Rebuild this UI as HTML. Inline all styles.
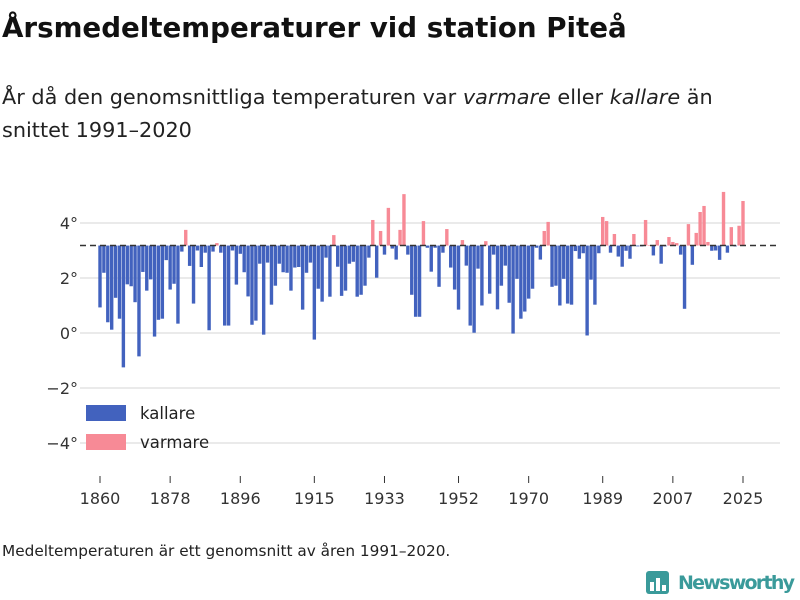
<!DOCTYPE html>
<html><head><meta charset="utf-8"><style>
body{margin:0;background:#fff;font-family:"Liberation Sans","DejaVu Sans",sans-serif;}
#wrap{position:relative;width:800px;height:600px;overflow:hidden;}
</style></head><body>
<div id="wrap">
<svg id="chart" width="800" height="600" font-family="DejaVu Sans, Liberation Sans, sans-serif">
<text x="2" y="37" font-size="27.7" font-weight="bold" fill="#111">Årsmedeltemperaturer vid station Piteå</text>
<text x="2" y="104" font-size="20.8" fill="#222">År då den genomsnittliga temperaturen var <tspan font-style="italic">varmare</tspan> eller <tspan font-style="italic">kallare</tspan> än</text>
<text x="2" y="137" font-size="20.8" fill="#222">snittet 1991–2020</text>
<g id="grid"></g><g id="bars"></g><g id="axes"></g>
<line x1="80" x2="780" y1="245" y2="245" stroke="#333" stroke-width="1.5" stroke-dasharray="6,4" id="baseline"/>
<rect x="86" y="405" width="40" height="16" fill="#4262be"/>
<text x="140" y="419" font-size="16.5" fill="#222">kallare</text>
<rect x="86" y="434" width="40" height="16" fill="#f78a96"/>
<text x="140" y="448" font-size="16.5" fill="#222">varmare</text>
<text x="2" y="556" font-size="15.3" fill="#222">Medeltemperaturen är ett genomsnitt av åren 1991–2020.</text>
<g>
<rect x="646" y="571" width="23" height="23" rx="3" fill="#3a9a9a"/>
<rect x="650" y="582" width="4" height="9" fill="#fff"/><rect x="656" y="578" width="4" height="13" fill="#fff"/><rect x="662" y="585" width="4" height="6" fill="#fff"/>
<text x="678" y="589" font-size="19" font-weight="bold" fill="#3a9a9a" textLength="117">Newsworthy</text>
</g>
</svg>
</div>
<script>
const years=[];for(let y=1860;y<=2025;y++)years.push(y);
const values=[0.93,2.19,0.39,0.12,1.28,0.52,-1.25,1.77,1.70,1.12,-0.85,2.22,1.54,1.95,-0.13,0.48,0.52,2.65,1.58,1.79,0.34,2.96,3.75,2.44,1.07,3.0,2.40,2.92,0.1,2.96,3.27,2.92,0.27,0.27,
3.0,1.76,2.88,2.21,1.33,0.3,0.45,2.52,-0.06,2.56,1.03,1.72,2.52,2.21,2.19,1.54,2.38,2.4,0.85,2.19,2.56,-0.24,1.61,1.14,2.74,1.32,3.56,2.41,1.35,1.54,2.52,2.59,1.32,
1.39,1.72,2.74,4.11,2.01,3.71,2.85,4.55,3.07,2.67,3.75,5.05,2.85,1.39,0.59,0.59,4.07,3.1,2.23,3.1,1.68,2.92,3.78,2.38,1.58,0.85,3.38,2.45,0.27,0.01,2.34,1.0,3.34,1.43,
2.85,0.86,1.72,2.45,1.1,-0.02,1.97,0.52,0.78,1.25,1.61,3.1,2.67,3.71,4.04,1.68,1.72,1.0,1.97,1.07,1.03,2.98,2.7,2.9,-0.09,1.94,1.03,2.9,4.22,4.07,2.92,3.6,2.78,
2.41,2.99,2.7,3.6,3.15,3.15,4.11,3.2,2.82,3.38,2.52,3.15,3.49,3.31,3.27,2.85,0.88,3.96,2.48,3.64,4.4,4.62,3.31,2.99,3.0,2.66,5.13,2.92,3.85,3.15,3.9,4.8];
const baselineValue=3.18;
const yTicks=[-4,-2,0,2,4];
const yTickLabels=["−4°","−2°","0°","2°","4°"];
const xTicks=[1860,1878,1896,1915,1933,1952,1970,1989,2007,2025];
const NS='http://www.w3.org/2000/svg';
const xs=y=>100+(y-1860)*(643/165);
const ys=v=>333-v*27.5;
const grid=document.getElementById('grid'),bars=document.getElementById('bars'),axes=document.getElementById('axes');
function mk(tag,attrs,parent){const e=document.createElementNS(NS,tag);for(const k in attrs)e.setAttribute(k,attrs[k]);parent.appendChild(e);return e;}
yTicks.forEach((t,i)=>{
 const l=mk('line',{x1:80,x2:780,y1:ys(t),y2:ys(t),stroke:'#e3e3e3','stroke-width':1.5},grid);
 
 
 const tx=mk('text',{x:78,y:ys(t)+6,'font-size':16,fill:'#333','text-anchor':'end'},axes);
 tx.textContent=yTickLabels[i];
 
 
});
xTicks.forEach(t=>{
 const l=mk('line',{x1:xs(t),x2:xs(t),y1:476,y2:483,stroke:'#333','stroke-width':1},axes);
 
 
 const tx=mk('text',{x:xs(t),y:504,'font-size':16,fill:'#333','text-anchor':'middle'},axes);
 tx.textContent=t;
 
 
});
document.getElementById('baseline').setAttribute('y1',ys(baselineValue));
document.getElementById('baseline').setAttribute('y2',ys(baselineValue));
years.forEach((yr,i)=>{
 const v=values[i];const y0=ys(baselineValue),y1=ys(v);
 const r=mk('rect',{x:xs(yr)-1.7,y:Math.min(y0,y1),width:3.4,height:Math.max(0.5,Math.abs(y1-y0)),fill:v>=baselineValue?'#f78a96':'#4262be'},bars);
 
 
});
</script>
</body></html>
